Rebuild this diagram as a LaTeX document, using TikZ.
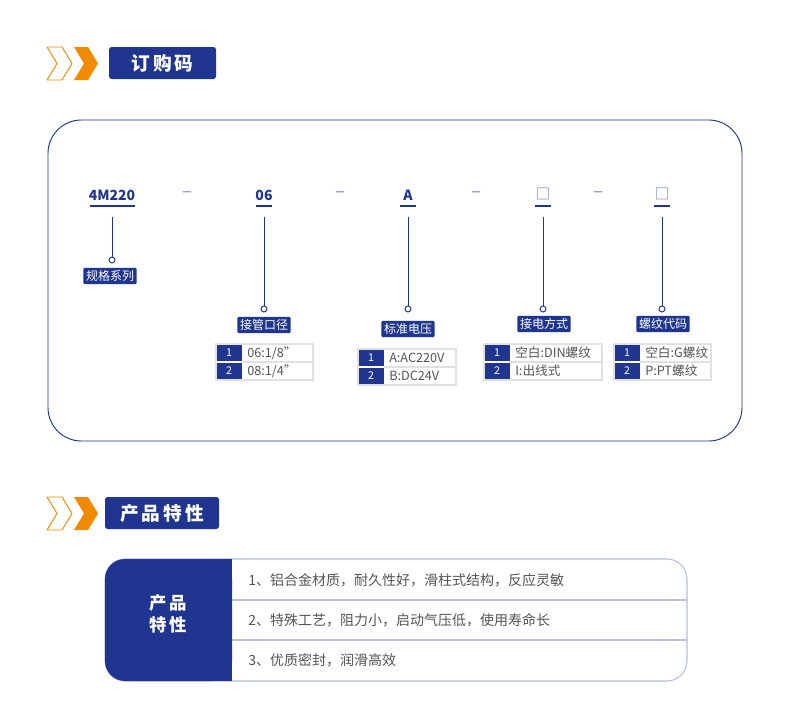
\documentclass[tikz,border=0pt]{standalone}
\usepackage{fontspec}
\setmainfont{Noto Sans CJK SC}
\usetikzlibrary{positioning}
\definecolor{navy}{HTML}{1F3590}
\definecolor{amber}{HTML}{F08A00}
\definecolor{pale}{HTML}{B8C0DA}
\definecolor{txt}{HTML}{555555}

\tikzset{
	tag/.style={fill=navy,text=white,inner sep=2pt,rounded corners=1pt,font=\fontsize{9}{10}\selectfont},
	code/.style={text=navy,font=\bfseries\fontsize{10.5}{11}\selectfont,inner sep=0pt},
	sep/.style={text=navy!55,font=\fontsize{14}{15}\selectfont,inner sep=0pt},
	bar/.style={navy,line width=2pt},
	lead/.style={navy,line width=0.6pt},
	ring/.style={draw=navy,line width=0.7pt,fill=white,circle,inner sep=0pt,minimum size=4.5pt},
	celltxt/.style={text=txt,font=\fontsize{9.5}{10}\selectfont,anchor=west,inner sep=0pt},
	feat/.style={text=txt,font=\fontsize{10.5}{12}\selectfont,anchor=west,inner sep=0pt}
}

% one option table: left x, top y, right x, row height, two texts
\newcommand{\opttable}[6]{
	\fill[navy] (#1,#2) rectangle ({#1+26},{#2+2*#4});
	\draw[black!12,line width=0.8pt] (#1,#2) rectangle (#3,{#2+2*#4});
	\draw[black!12,line width=0.8pt] (#1,{#2+#4}) -- (#3,{#2+#4});
	\draw[white,line width=0.8pt] (#1,{#2+#4}) -- ({#1+26},{#2+#4});
	\node[text=white,font=\fontsize{8}{9}\selectfont] at ({#1+13},{#2+#4/2}) {1};
	\node[text=white,font=\fontsize{8}{9}\selectfont] at ({#1+13},{#2+1.5*#4}) {2};
	\node[celltxt] at ({#1+31},{#2+#4/2}) {#5};
	\node[celltxt] at ({#1+31},{#2+1.5*#4}) {#6};
}

% section title with chevrons
\newcommand{\sectitle}[4]{
	\draw[amber,line width=0.7pt,line join=round] (47,#1) -- (62,#1) -- (72,{#1+16.5}) -- (62,{#1+33}) -- (47,{#1+33}) -- (57,{#1+16.5}) -- cycle;
	\fill[amber] (74,#1) -- (88,#1) -- (98,{#1+16.5}) -- (88,{#1+33}) -- (74,{#1+33}) -- (84,{#1+16.5}) -- cycle;
	\fill[navy,rounded corners=2pt] (#2,#1) rectangle (#3,{#1+32});
	\node[text=white,font=\bfseries\fontsize{14}{15}\selectfont] at ({(#2+#3)/2},{#1+16}) {#4};
}

\begin{document}
\begin{tikzpicture}[x=0.75pt,y=-0.75pt]
	\useasboundingbox[fill=white] (0,0) rectangle (790,703);

	% Order code
	\sectitle{47}{109}{216}{订\,购\,码}
	\draw[navy,line width=0.7pt,rounded corners=25pt] (48,120) rectangle (742,441);

	\node[code] (series) at (112,195) {4M220};
	\node[sep] (s1) at (188,195) {–};
	\node[code] (port) at (264,195) {06};
	\node[sep] (s2) at (340,195) {–};
	\node[code] (volt) at (408,195) {A};
	\node[sep] (s3) at (476,195) {–};
	\node[code,font=\fontsize{11}{12}\selectfont,text=navy!70] (wire) at (543,194) {□};
	\node[sep] (s4) at (598,195) {–};
	\node[code,font=\fontsize{11}{12}\selectfont,text=navy!70] (thread) at (662,194) {□};

	\draw[bar] (90,206) -- (135,206);
	\draw[bar] (256,206) -- (272,206);
	\draw[bar] (400,206) -- (416,206);
	\draw[bar] (535,206) -- (551,206);
	\draw[bar] (654,206) -- (670,206);

	\node[ring] (r1) at (112,260) {};
	\node[ring] (r2) at (264,309) {};
	\node[ring] (r3) at (408,309) {};
	\node[ring] (r4) at (543,309) {};
	\node[ring] (r5) at (662,309) {};
	\draw[lead] (112,217) -- (r1);
	\draw[lead] (264,217) -- (r2);
	\draw[lead] (408,217) -- (r3);
	\draw[lead] (543,217) -- (r4);
	\draw[lead] (662,217) -- (r5);

	\node[tag] (t1) at (110,276) {规格系列};
	\node[tag] (t2) at (264,325) {接管口径};
	\node[tag] (t3) at (408,329) {标准电压};
	\node[tag] (t4) at (544,324) {接电方式};
	\node[tag] (t5) at (663,324) {螺纹代码};

	\opttable{216}{344}{313}{18}{06:1/8”}{08:1/4”}
	\opttable{358}{349}{456}{18}{A:AC220V}{B:DC24V}
	\opttable{484}{344}{602}{18}{空白:DIN螺纹}{I:出线式}
	\opttable{614}{344}{711}{18}{空白:G螺纹}{P:PT螺纹}

	% Features
	\sectitle{497}{105}{219}{产\,品\,特\,性}
	\draw[pale,line width=0.8pt,rounded corners=15pt] (105,559) rectangle (687,681);
	\fill[navy,rounded corners=15pt] (105,559) -- (232,559) -- (232,681) -- (105,681) -- cycle;
	\fill[navy] (200,559) rectangle (232,681);
	\draw[pale,line width=0.8pt] (232,600) -- (687,600);
	\draw[pale,line width=0.8pt] (232,640) -- (687,640);
	\node[text=white,font=\bfseries\fontsize{13}{15}\selectfont,align=center] (fhead) at (168,614) {产\,品\\[2pt]特\,性};
	\node[feat] (f1) at (248,580) {1、铝合金材质，耐久性好，滑柱式结构，反应灵敏};
	\node[feat] (f2) at (248,620) {2、特殊工艺，阻力小，启动气压低，使用寿命长};
	\node[feat] (f3) at (248,660) {3、优质密封，润滑高效};
\end{tikzpicture}
\end{document}
